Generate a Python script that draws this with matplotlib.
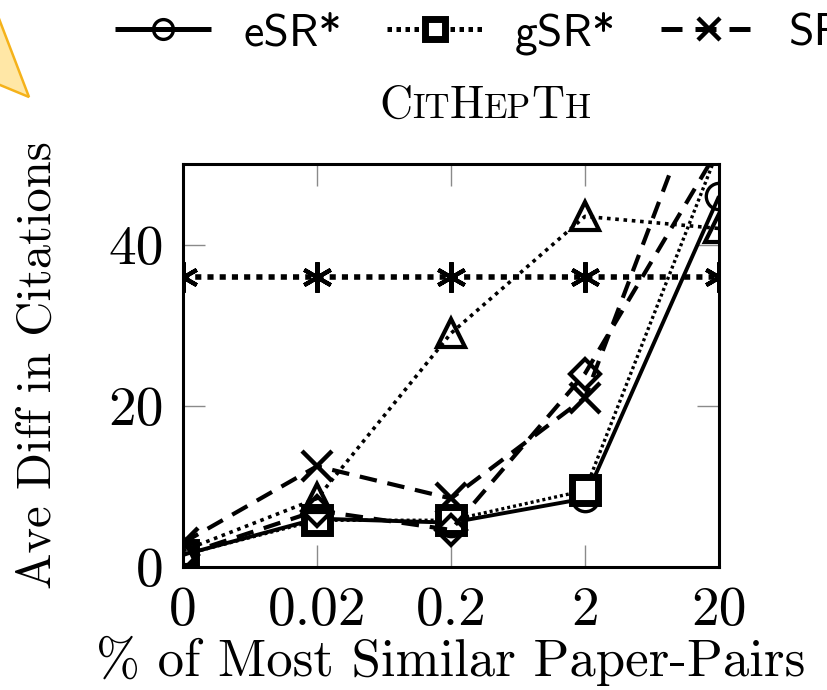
import matplotlib
matplotlib.use("Agg")
import matplotlib.pyplot as plt
from matplotlib.patches import Polygon

# data
x_labels = ["0", "0.02", "0.2", "2", "20"]
esr = [1.5, 6.0, 5.5, 8.5, 46.0]      # eSR*
gsr = [1.5, 5.8, 5.8, 9.5, 52.0]      # gSR*
sr = [3.0, 12.5, 8.5, 21.0, 65.0]     # SR
tri = [2.0, 8.5, 29.0, 43.5, 42.0]
dia = [1.5, 7.0, 4.6, 24.0, 52.0]
ast = [36.0, 36.0, 36.0, 36.0, 36.0]

plt.rcParams["axes.formatter.use_mathtext"] = True
plt.rcParams["lines.solid_capstyle"] = "butt"

fig = plt.figure(figsize=(8.27, 6.90), dpi=100)
ax = fig.add_axes([183 / 827, 1 - 567 / 690, (719 - 183) / 827, (567 - 164) / 690])

xs = list(range(len(x_labels)))
k = "black"
l1, = ax.plot(xs, esr, color=k, lw=2.8, ls="-", marker="o", ms=19, mfc="none", mew=2.4, label="eSR*")
l2, = ax.plot(xs, gsr, color=k, lw=2.4, ls=(0, (0.9, 0.9)), marker="s", ms=19, mfc="white", mew=5, label="gSR*")
l3, = ax.plot(xs, sr, color=k, lw=3.0, ls=(0, (4.2, 2.6)), marker="x", ms=22, mew=3.2, label="SR")
ax.plot(xs, tri, color=k, lw=2.6, ls=(0, (1, 1.3)), marker="^", ms=20, mfc="none", mew=3.0)
ax.plot(xs, dia, color=k, lw=3.0, ls=(0, (4.2, 2.6)), marker="D", ms=15, mfc="none", mew=3.0)
ax.plot(xs, ast, color=k, lw=4.0, ls=(0, (1.1, 1.1)), marker=(6, 2, 0), ms=22, mew=3.0)

ax.set_xlim(0, 4)
ax.set_ylim(0, 50)
ax.set_xticks(xs)
ax.set_xticklabels(x_labels)
ax.set_yticks([0, 20, 40])
ax.set_yticklabels(["0", "20", "40"])
for s in ax.spines.values():
    s.set_linewidth(2.2)
ax.tick_params(direction="in", length=16, width=1.0, color="#8a8a8a",
               top=True, right=True, labelsize=40, pad=14)
for t in ax.get_xticklabels() + ax.get_yticklabels():
    t.set_family("cmr10")

ax.set_xlabel("% of Most Similar Paper-Pairs", family="cmr10", fontsize=38, labelpad=0)
ax.set_ylabel("Ave Diff in Citations", family="cmr10", fontsize=35, labelpad=34)

# legend, cut off at the right edge like the screenshot
leg = fig.legend(handles=[l1, l2, l3], loc="center left", bbox_to_anchor=(115 / 827, 1 - 33 / 690),
                 ncol=3, frameon=False, prop={"family": "cmss10", "size": 33},
                 handlelength=2.1, handletextpad=0.7, columnspacing=0.98,
                 borderpad=0, borderaxespad=0, markerscale=0.75)
for ln in leg.get_lines():
    ln.set_linewidth(3.6)

# title in small caps
pieces = [("C", 33), ("IT", 25), ("H", 33), ("EP", 25), ("T", 33), ("H", 25)]
fig.canvas.draw()
r = fig.canvas.get_renderer()
texts = []
x = 0.0
for s, size in pieces:
    t = fig.text(0, 1 - 118 / 690, s, family="cmr10", fontsize=size, va="baseline", ha="left")
    w = t.get_window_extent(renderer=r).width
    texts.append((t, x))
    x += w
x0 = 485 - x / 2
for t, off in texts:
    t.set_x((x0 + off) / 827)

# yellow callout tip in the corner
tip = [(-12 / 827, 1 + 10 / 690), (29 / 827, 1 - 97 / 690), (-12 / 827, 1 - 80 / 690)]
fig.add_artist(Polygon(tip, closed=True, transform=fig.transFigure,
                       facecolor="#ffe7a6", edgecolor="#f5b21a", lw=1.8))

fig.savefig("out.png", dpi=100)
